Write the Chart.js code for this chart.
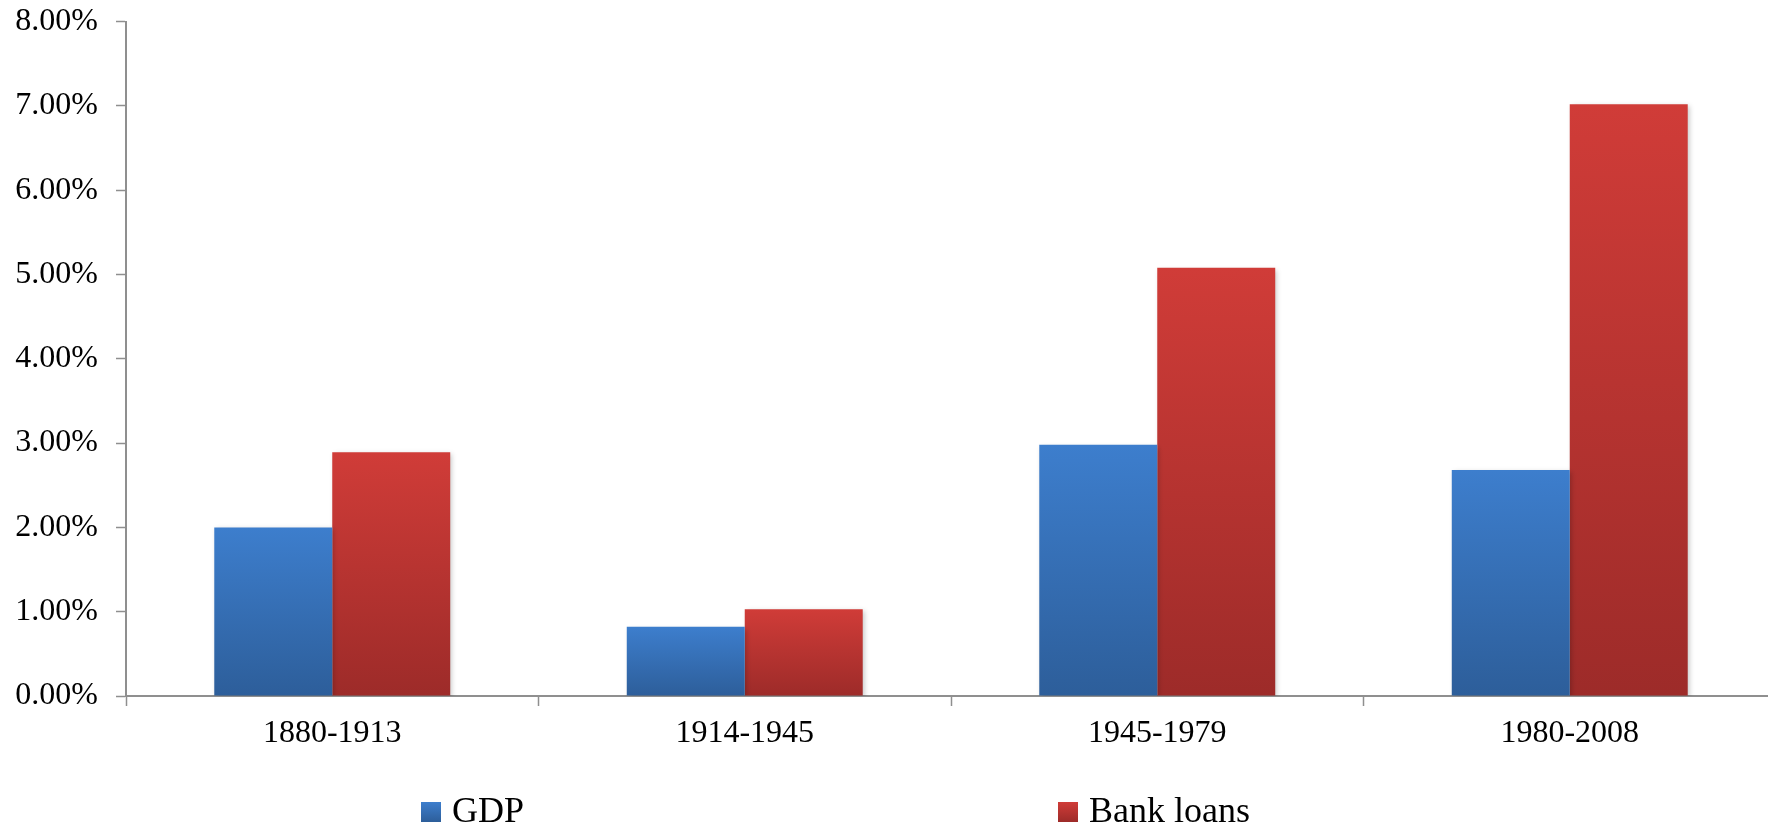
<!DOCTYPE html>
<html>
<head>
<meta charset="utf-8">
<script src="https://cdn.jsdelivr.net/npm/chart.js@4/dist/chart.umd.min.js"></script>
<style>
  html, body { margin: 0; padding: 0; background: #fff; overflow: hidden; }
  #wrap { width: 1776px; height: 826px; }
</style>
</head>
<body>
<div id="wrap"><canvas id="chart" width="1776" height="826"></canvas></div>
<script>
const periods = ['1880-1913', '1914-1945', '1945-1979', '1980-2008'];
const gdp = [2.00, 0.82, 2.98, 2.68];
const bankLoans = [2.89, 1.03, 5.08, 7.02];
const yTicks = [0, 1, 2, 3, 4, 5, 6, 7, 8];

const FONT = "'Liberation Serif', 'Times New Roman', serif";
const AXIS = '#8f8f8f';

// top/bottom colours of the per-bar gradients
const shades = [
  ['#3d7ecd', '#2d5e9a'],
  ['#d03c38', '#9d2b29']
];

function barFill(c) {
  const chart = c.chart;
  const pair = shades[c.datasetIndex];
  if (!chart.chartArea || c.parsed === undefined) return pair[0];
  const y = chart.scales.y;
  const top = y.getPixelForValue(c.parsed.y);
  const bottom = y.getPixelForValue(0);
  if (!(bottom > top)) return pair[0];
  const g = chart.ctx.createLinearGradient(0, top, 0, bottom);
  g.addColorStop(0, pair[0]);
  g.addColorStop(1, pair[1]);
  return g;
}

// soft shadow under the bars
const barShadow = {
  id: 'barShadow',
  beforeDatasetsDraw(chart) {
    const ctx = chart.ctx;
    ctx.save();
    ctx.shadowColor = 'rgba(0,0,0,0.22)';
    ctx.shadowBlur = 5;
    ctx.shadowOffsetX = 2;
    ctx.shadowOffsetY = 2;
  },
  afterDatasetsDraw(chart) {
    chart.ctx.restore();
  }
};

// legend spread out at the bottom, like the original
const bottomLegend = {
  id: 'bottomLegend',
  afterDraw(chart) {
    const ctx = chart.ctx;
    const spots = [421, 1058];
    ctx.save();
    ctx.font = '36px ' + FONT;
    ctx.textBaseline = 'alphabetic';
    ctx.textAlign = 'left';
    chart.data.datasets.forEach((ds, i) => {
      const x = spots[i];
      const g = ctx.createLinearGradient(0, 802, 0, 822);
      g.addColorStop(0, shades[i][0]);
      g.addColorStop(1, shades[i][1]);
      ctx.fillStyle = g;
      ctx.fillRect(x, 802, 20, 20);
      ctx.fillStyle = '#000';
      ctx.fillText(ds.label, x + 31, 822);
    });
    ctx.restore();
  }
};

new Chart(document.getElementById('chart'), {
  type: 'bar',
  data: {
    labels: periods,
    datasets: [
      { label: 'GDP', data: gdp, backgroundColor: barFill },
      { label: 'Bank loans', data: bankLoans, backgroundColor: barFill }
    ]
  },
  options: {
    responsive: false,
    animation: false,
    layout: { padding: { top: 21.5, left: 0, right: 0, bottom: 70 } },
    datasets: {
      bar: { categoryPercentage: 0.572, barPercentage: 1, borderWidth: 0 }
    },
    plugins: {
      legend: { display: false },
      tooltip: { enabled: false }
    },
    scales: {
      x: {
        offset: true,
        grid: {
          offset: true,
          drawOnChartArea: false,
          drawTicks: true,
          tickLength: 10,
          tickColor: AXIS,
          tickWidth: 1.5
        },
        border: { color: AXIS, width: 2 },
        ticks: { color: '#000', padding: 8, font: { family: FONT, size: 32 } },
        afterFit(s) { s.height = 60; s.paddingLeft = 0; s.paddingRight = 0; }
      },
      y: {
        min: 0,
        max: 8,
        afterBuildTicks(s) { s.ticks = yTicks.map(v => ({ value: v })); },
        grid: {
          drawOnChartArea: false,
          drawTicks: true,
          tickLength: 10,
          tickColor: AXIS,
          tickWidth: 1.5
        },
        border: { color: AXIS, width: 2 },
        ticks: {
          color: '#000',
          padding: 18,
          font: { family: FONT, size: 32 },
          callback: v => v.toFixed(2) + '%'
        },
        afterFit(s) { s.width = 126; s.paddingTop = 0; s.paddingBottom = 0; }
      }
    }
  },
  plugins: [barShadow, bottomLegend]
});
</script>
</body>
</html>
